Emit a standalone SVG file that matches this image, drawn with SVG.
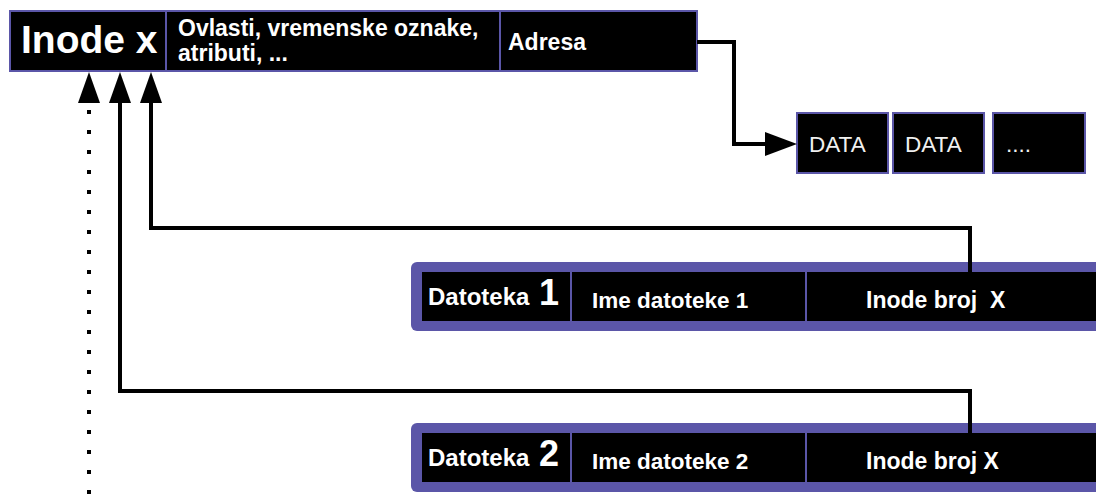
<svg xmlns="http://www.w3.org/2000/svg" width="1096" height="500" viewBox="0 0 1096 500">
  <defs>
    <style>
      .box { fill: #000; stroke: #5b56a8; stroke-width: 2; }
      .div { stroke: #5b56a8; stroke-width: 2; }
      .band { fill: #5b56a8; }
      .wb { fill: #fff; font-family: "Liberation Sans", Arial, sans-serif; font-weight: bold; }
      .wr { fill: #f0f0f0; font-family: "Liberation Sans", Arial, sans-serif; font-size: 22.5px; }
      .line { fill: none; stroke: #000; stroke-width: 4; stroke-linejoin: miter; }
      .dots { fill: none; stroke: #000; stroke-width: 4; stroke-dasharray: 4 16; }
    </style>
  </defs>

  <g id="inode">
    <rect class="box" x="10" y="11" width="687" height="60"/>
    <line class="div" x1="166" y1="11" x2="166" y2="71"/>
    <line class="div" x1="500" y1="11" x2="500" y2="71"/>
    <text class="wb" x="21" y="53" font-size="39">Inode x</text>
    <text class="wb" x="178" y="36" font-size="23">Ovlasti, vremenske oznake,</text>
    <text class="wb" x="178" y="61" font-size="23">atributi, ...</text>
    <text class="wb" x="508" y="50" font-size="23">Adresa</text>
  </g>

  <g id="data1">
    <rect class="box" x="797" y="113" width="91" height="60"/>
    <text class="wr" x="809" y="152">DATA</text>
  </g>
  <g id="data2">
    <rect class="box" x="893" y="113" width="91" height="60"/>
    <text class="wr" x="905" y="152">DATA</text>
  </g>
  <g id="data3">
    <rect class="box" x="993" y="113" width="92" height="60"/>
    <text class="wr" x="1006" y="152">....</text>
  </g>

  <g id="datoteka1">
    <rect class="band" x="411" y="262" width="700" height="69" rx="6"/>
    <rect x="422" y="272" width="690" height="49" fill="#000"/>
    <line class="div" x1="571" y1="272" x2="571" y2="321"/>
    <line class="div" x1="806" y1="272" x2="806" y2="321"/>
    <text class="wb" x="428" y="305" font-size="24">Datoteka <tspan font-size="36" dx="3">1</tspan></text>
    <text class="wb" x="592" y="308" font-size="22.5">Ime datoteke 1</text>
    <text class="wb" x="866" y="308" font-size="23">Inode broj&#160; X</text>
  </g>

  <g id="datoteka2">
    <rect class="band" x="411" y="423" width="700" height="69" rx="6"/>
    <rect x="422" y="433" width="690" height="49" fill="#000"/>
    <line class="div" x1="571" y1="433" x2="571" y2="482"/>
    <line class="div" x1="806" y1="433" x2="806" y2="482"/>
    <text class="wb" x="428" y="466" font-size="24">Datoteka <tspan font-size="36" dx="3">2</tspan></text>
    <text class="wb" x="592" y="469" font-size="22.5">Ime datoteke 2</text>
    <text class="wb" x="866" y="469" font-size="23">Inode broj X</text>
  </g>

  <g id="connectors">
    <path class="line" d="M697,42 H734 V144 H767"/>
    <path d="M765,132 L797,144 L765,156 Z" fill="#000"/>
    <path class="line" d="M970,272 V228 H151 V100"/>
    <path d="M140,103 L151,72 L162,103 Z" fill="#000"/>
    <path class="line" d="M970,433 V391 H120 V100"/>
    <path d="M109,103 L120,72 L131,103 Z" fill="#000"/>
    <line class="dots" x1="89" y1="110" x2="89" y2="500"/>
    <path d="M78,103 L89,72 L100,103 Z" fill="#000"/>
  </g>
</svg>
